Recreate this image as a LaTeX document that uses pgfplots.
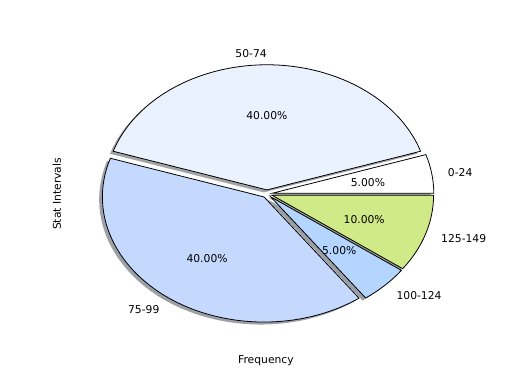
\documentclass[border=0pt]{standalone}
\usepackage{pgfplots}
\pgfplotsset{compat=1.18}
\usepackage{pgfplotstable}
\usepackage{fontspec}
\setmainfont{DejaVu Sans}
\definecolor{c0}{HTML}{FFFFFF}
\definecolor{c1}{HTML}{EAF1FF}
\definecolor{c2}{HTML}{C5D9FF}
\definecolor{c3}{HTML}{B3D5FF}
\definecolor{c4}{HTML}{CFEA87}
\pgfplotstableread[col sep=comma]{
label,value,explode,anchor
0-24,5,0.033,west
50-74,40,0.032,east
75-99,40,0.03,east
100-124,5,0.033,west
125-149,10,0.033,west
}\piedata
\begin{document}
\begin{tikzpicture}[font=\fontsize{10.8}{13}\selectfont]
\pgfmathsetmacro\cum{0}
\pgfplotsforeachungrouped \i in {0,...,4}{%
  \pgfplotstablegetelem{\i}{value}\of\piedata \let\v\pgfplotsretval
  \pgfplotstablegetelem{\i}{explode}\of\piedata \let\e\pgfplotsretval
  \pgfplotstablegetelem{\i}{label}\of\piedata
  \expandafter\global\expandafter\let\csname lab\i\endcsname\pgfplotsretval
  \pgfplotstablegetelem{\i}{anchor}\of\piedata
  \expandafter\global\expandafter\let\csname anc\i\endcsname\pgfplotsretval
  \pgfmathsetmacro\a{3.6*\cum}%
  \pgfmathsetmacro\b{3.6*(\cum+\v)}%
  \pgfmathsetmacro\m{(\a+\b)/2}%
  \pgfmathsetmacro\ox{\e*cos(\m)}%
  \pgfmathsetmacro\oy{\e*sin(\m)}%
  \pgfmathsetmacro\sx{\ox+cos(\a)}%
  \pgfmathsetmacro\sy{\oy+sin(\a)}%
  \pgfmathsetmacro\hx{\ox-0.02}%
  \pgfmathsetmacro\hy{\oy-0.02}%
  \pgfmathsetmacro\hsx{\sx-0.02}%
  \pgfmathsetmacro\hsy{\sy-0.02}%
  \pgfmathsetmacro\px{\ox+0.6*cos(\m)}%
  \pgfmathsetmacro\py{\oy+0.6*sin(\m)}%
  \pgfmathsetmacro\lx{\ox+1.1*cos(\m)}%
  \pgfmathsetmacro\ly{\oy+1.1*sin(\m)}%
  \expandafter\xdef\csname wa\i\endcsname{\a}%
  \expandafter\xdef\csname wb\i\endcsname{\b}%
  \expandafter\xdef\csname wox\i\endcsname{\ox}%
  \expandafter\xdef\csname woy\i\endcsname{\oy}%
  \expandafter\xdef\csname wsx\i\endcsname{\sx}%
  \expandafter\xdef\csname wsy\i\endcsname{\sy}%
  \expandafter\xdef\csname whx\i\endcsname{\hx}%
  \expandafter\xdef\csname why\i\endcsname{\hy}%
  \expandafter\xdef\csname whsx\i\endcsname{\hsx}%
  \expandafter\xdef\csname whsy\i\endcsname{\hsy}%
  \expandafter\xdef\csname wpx\i\endcsname{\px}%
  \expandafter\xdef\csname wpy\i\endcsname{\py}%
  \expandafter\xdef\csname wlx\i\endcsname{\lx}%
  \expandafter\xdef\csname wly\i\endcsname{\ly}%
  \expandafter\xdef\csname wv\i\endcsname{\v}%
  \pgfmathsetmacro\cum{\cum+\v}%
}
\begin{axis}[width=520bp,height=390bp,scale only axis,hide axis,clip=false,
  xmin=-1.6516,xmax=1.5662,ymin=-1.5675,ymax=1.5500]
\path (rel axis cs:0,0) rectangle (rel axis cs:1,1);
\pgfplotsinvokeforeach{0,...,4}{
  \fill[fill=c#1!30!black,fill opacity=0.5]
    (axis cs:\csname whx#1\endcsname,\csname why#1\endcsname) --
    (axis cs:\csname whsx#1\endcsname,\csname whsy#1\endcsname)
    arc[start angle=\csname wa#1\endcsname,end angle=\csname wb#1\endcsname,x radius=1,y radius=1] -- cycle;
}
\pgfplotsinvokeforeach{0,...,4}{
  \filldraw[fill=c#1,draw=black,line width=0.8pt]
    (axis cs:\csname wox#1\endcsname,\csname woy#1\endcsname) --
    (axis cs:\csname wsx#1\endcsname,\csname wsy#1\endcsname)
    arc[start angle=\csname wa#1\endcsname,end angle=\csname wb#1\endcsname,x radius=1,y radius=1] -- cycle;
}
\pgfplotsinvokeforeach{0,...,4}{
  \node[inner sep=0pt,yshift=-1bp] at (axis cs:\csname wpx#1\endcsname,\csname wpy#1\endcsname)
    {\pgfmathprintnumber[fixed,fixed zerofill,precision=2,assume math mode=true]{\csname wv#1\endcsname}\%};
  \node[inner sep=0pt,yshift=-1bp,anchor=\csname anc#1\endcsname] at (axis cs:\csname wlx#1\endcsname,\csname wly#1\endcsname)
    {\csname lab#1\endcsname};
}
\node at (axis cs:-0.006,-1.333) {Frequency};
\node[rotate=90] at (axis cs:-1.299,0) {Stat Intervals};
\end{axis}
\end{tikzpicture}
\end{document}
